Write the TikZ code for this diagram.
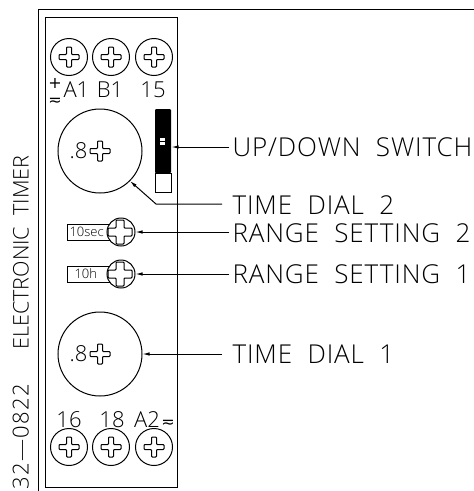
\documentclass[tikz,border=0pt]{standalone}
\usepackage{fontspec}
\setmainfont{Open Sans}[UprightFont=* Light]
\newfontfamily\symfont{DejaVu Sans}
\usepackage{tikz}
\usetikzlibrary{arrows.meta, positioning}
\tikzset{
    terminal/.style={draw, circle, minimum size=37pt, inner sep=0pt},
    dial/.style={draw, circle, minimum size=84pt, inner sep=0pt},
    rangescrew/.style={draw, circle, fill=white, minimum size=28pt, inner sep=0pt},
    flag/.style={draw, anchor=west, minimum width=50pt, minimum height=16pt, inner sep=0pt, text width=48pt, align=left, font=\fontsize{13}{13}\selectfont},
    callout/.style={anchor=west, inner sep=0pt, text height=19pt, text depth=0pt, font=\fontsize{26}{26}\selectfont\addfontfeature{LetterSpace=3.5}},
    marktext/.style={inner sep=0pt, font=\fontsize{22}{22}\selectfont},
    sidetext/.style={rotate=90, anchor=west, inner sep=0pt, text height=16pt, text depth=0pt},
    leader/.style={-{Latex[length=7pt,width=3.5pt]}, shorten <=3pt},
    pics/crosshead/.style n args={2}{code={
        \draw[fill=white, rounded corners=0.8pt] (-#1,-#2) -- (-#2,-#2) -- (-#2,-#1) -- (#2,-#1) -- (#2,-#2) -- (#1,-#2)
            -- (#1,#2) -- (#2,#2) -- (#2,#1) -- (-#2,#1) -- (-#2,#2) -- (-#1,#2) -- cycle;
    }}
}
\begin{document}
\begin{tikzpicture}[x=1pt, y=-1pt, line width=1pt]
        \useasboundingbox (0,0) rectangle (474,491);

        % Frame
        \draw (38,491) -- (38,9) -- (474,9);
        \node[draw, minimum width=132.5pt, minimum height=469.5pt, inner sep=0pt] (body) at (111.25,252.25) {};

        % Terminals
        \foreach \x/\name in {69/a,111/b,154/c} {
            \node[terminal] (top\name) at (\x,57) {};
            \pic at (\x,57) {crosshead={10}{2.5}};
            \node[terminal] (bot\name) at (\x,447) {};
            \pic at (\x,447) {crosshead={10}{2.5}};
        }

        % Terminal labels
        \node[marktext, align=center, font=\symfont\fontsize{16}{17}\selectfont] (plus) at (55,92) {+\\≂};
        \node[marktext, anchor=west] (a1) at (63,90) {A1};
        \node[marktext] (b1) at (110,90) {B1};
        \node[marktext] (t15) at (153,90) {15};
        \node[marktext] (t16) at (69,420) {16};
        \node[marktext] (t18) at (112,420) {18};
        \node[marktext] (a2) at (147,420) {A2};
        \node[marktext, font=\symfont\fontsize{16}{16}\selectfont] (tilde2) at (168,424) {≂};

        % Dials
        \node[dial] (dial2) at (100,151) {};
        \node[dial] (dial1) at (100,354) {};
        \pic at (100,151) {crosshead={10}{2.5}};
        \pic at (100,354) {crosshead={10}{2.5}};
        \node[marktext, anchor=east] (val2) at (88,151) {.8};
        \node[marktext, anchor=east] (val1) at (88,354) {.8};

        % Switch
        \draw (155,173) rectangle (171,192);
        \node[fill=black, minimum width=16pt, minimum height=64pt, inner sep=0pt, rounded corners=1pt] (switch) at (163,141) {};
        \fill[white] (160,138) rectangle (165,140.5);
        \fill[white] (160,142) rectangle (165,144.5);

        % Range screws
        \node[flag] (flag2) at (67,232) {\hspace{1pt}10sec};
        \node[flag] (flag1) at (67,274) {\hspace{6pt}10h};
        \node[rangescrew] (range2) at (121,232) {};
        \node[rangescrew] (range1) at (121,274) {};
        \pic at (120,232) {crosshead={12}{4}};
        \pic at (120,274) {crosshead={12}{4}};

        % Callouts
        \node[callout] (lblswitch) at (232,147) {UP/DOWN\ \ SWITCH};
        \node[callout] (lbldial2) at (232,205) {TIME\ \ DIAL\ \ 2};
        \node[callout] (lblrange2) at (232,233) {RANGE\ \ SETTING\ \ 2};
        \node[callout] (lblrange1) at (232,274) {RANGE\ \ SETTING\ \ 1};
        \node[callout] (lbldial1) at (232,354) {TIME\ \ DIAL\ \ 1};

        % Leaders
        \draw[leader] (lblswitch.west) -- (switch.east |- lblswitch.west);
        \coordinate (bend) at (156,204);
        \draw[leader, shorten <=10pt] (lbldial2.west |- bend) -- (bend) -- (dial2.-45);
        \draw[leader] (lblrange2.west |- range2.east) -- (range2.east);
        \draw[leader] (lblrange1.west) -- (range1.east);
        \draw[leader, shorten <=10pt] (lbldial1.west) -- (dial1.east);

        % Side text
        \node[sidetext, font=\fontsize{21.5}{21.5}\selectfont] (side1) at (20.5,350) {ELECTRONIC\ \ TIMER};
        \node[sidetext, font=\fontsize{22}{22}\selectfont\addfontfeature{LetterSpace=6}] (side2) at (20.5,490) {32\textemdash 0822};
    \end{tikzpicture}
\end{document}
